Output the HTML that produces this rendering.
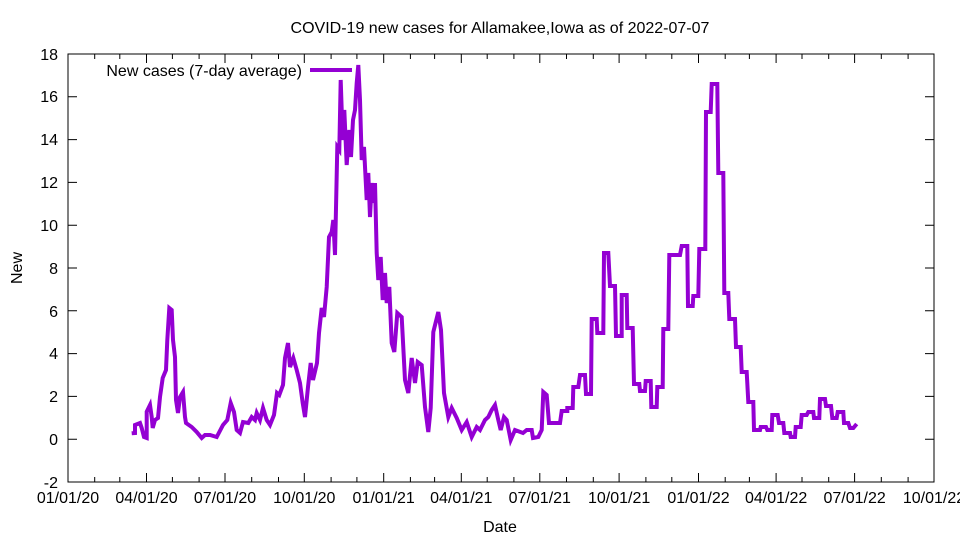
<!DOCTYPE html>
<html><head><meta charset="utf-8"><style>body{margin:0;background:#fff}svg{display:block}text{font-family:"Liberation Sans",sans-serif;font-size:16px;fill:#000}</style></head><body>
<svg width="960" height="540" viewBox="0 0 960 540">
<text x="500" y="33" text-anchor="middle">COVID-19 new cases for Allamakee,Iowa as of 2022-07-07</text>
<text x="500" y="532" text-anchor="middle">Date</text>
<text transform="translate(22,268) rotate(-90)" text-anchor="middle">New</text>
<g stroke="#000" stroke-width="1" fill="none">
<rect x="68" y="54" width="866" height="428"/>
<path d="M68,482h9M934,482h-9M68,439.2h9M934,439.2h-9M68,396.4h9M934,396.4h-9M68,353.6h9M934,353.6h-9M68,310.8h9M934,310.8h-9M68,268h9M934,268h-9M68,225.2h9M934,225.2h-9M68,182.4h9M934,182.4h-9M68,139.6h9M934,139.6h-9M68,96.8h9M934,96.8h-9"/>
<path d="M146.5,482v-9M225,482v-9M304.3,482v-9M383.7,482v-9M461.3,482v-9M539.8,482v-9M619.1,482v-9M698.5,482v-9M776.1,482v-9M854.6,482v-9M146.5,54v9M225,54v9M304.3,54v9M383.7,54v9M461.3,54v9M539.8,54v9M619.1,54v9M698.5,54v9M776.1,54v9M854.6,54v9"/>
<path d="M94.7,482v-5M119.8,482v-5M172.4,482v-5M199.1,482v-5M251.7,482v-5M278.5,482v-5M331.1,482v-5M356.9,482v-5M410.4,482v-5M434.6,482v-5M487.2,482v-5M513.9,482v-5M566.5,482v-5M593.3,482v-5M645.9,482v-5M671.8,482v-5M725.2,482v-5M749.4,482v-5M802,482v-5M828.7,482v-5M881.3,482v-5M908.1,482v-5M94.7,54v5M119.8,54v5M172.4,54v5M199.1,54v5M251.7,54v5M278.5,54v5M331.1,54v5M356.9,54v5M410.4,54v5M434.6,54v5M487.2,54v5M513.9,54v5M566.5,54v5M593.3,54v5M645.9,54v5M671.8,54v5M725.2,54v5M749.4,54v5M802,54v5M828.7,54v5M881.3,54v5M908.1,54v5"/>
</g>
<g text-anchor="end">
<text x="58" y="488">-2</text><text x="58" y="445">0</text><text x="58" y="402">2</text><text x="58" y="359">4</text><text x="58" y="317">6</text><text x="58" y="274">8</text><text x="58" y="231">10</text><text x="58" y="188">12</text><text x="58" y="145">14</text><text x="58" y="102">16</text><text x="58" y="60">18</text>
</g>
<g text-anchor="middle">
<text x="68" y="503">01/01/20</text><text x="146.5" y="503">04/01/20</text><text x="225" y="503">07/01/20</text><text x="304.3" y="503">10/01/20</text><text x="383.7" y="503">01/01/21</text><text x="461.3" y="503">04/01/21</text><text x="539.8" y="503">07/01/21</text><text x="619.1" y="503">10/01/21</text><text x="698.5" y="503">01/01/22</text><text x="776.1" y="503">04/01/22</text><text x="854.6" y="503">07/01/22</text><text x="934" y="503">10/01/22</text>
</g>
<text x="302" y="76" text-anchor="end">New cases (7-day average)</text>
<path d="M310,70H352" stroke="#9400d3" stroke-width="4"/>
<polyline fill="none" stroke="#9400d3" stroke-width="4" stroke-linejoin="miter" points="131.7,433.3 135,433 135,425 140,423 141.7,428 144,437 146.7,438 146.7,411.7 150,405 151.7,417 152.7,428 155,420 158,418 160,397 162.7,378 166,370 167.3,340 169.3,308 171.7,310 173,340 175,357 176,400 178,413 180,397 183,392 185,417 186,423 191.7,427 196.7,432 201.7,438 205,435 210,435 216.7,437 223,425 227.3,420 230.7,403 234,412 236.7,430 240,433 243,422 248.3,423 251.7,417 255,420 256.7,413 260,420 263,408 266.7,420 270,425 274,415 277,393 279.3,395 283,385 285,358 288,343 290,367 293.3,358 296.7,370 300,383 302.7,403 305,417 308,387 310.7,363 313,380 317,363 319,333 321.7,308 324,317 326.7,287 329,237 331.7,232 333.3,220 335,255 337.3,147 339.3,150 340.7,80 342.7,140 344.3,110 346.7,165 349.3,130 351,157 353,120 355,110 356.7,83 358.3,65 360,100 361.7,160 364,147 366.7,200 368.3,173 370,217 371.7,183 373.3,203 375,183 376.7,253 378.3,280 380.7,257 382.7,300 385,273 386.7,303 389.3,287 391.7,343 394.3,352 397.3,313 401.7,317 405,380 408.3,393 411.7,358 415,383 417.7,362 421.7,365 425,407 428.3,432 430.7,408 433.3,332 438.3,312 441,330 444,393 448.3,417 451.7,408 456.7,418 461.7,430 466.7,422 471.7,437 476.7,427 480,430 485,420 488.3,417 491.7,410 495,405 498.3,420 500.7,430 504,417 506.7,420 510.7,440 515,430 523,433 526.7,430 531.7,430 533,438 538.3,437 541.7,430 543.3,392 546.7,395 549,423 560,423 561.7,411 567.3,411 567.3,408 572.7,408 573.3,387 578.3,387 580,375 585,375 586,394 591,394 591.7,319 596.7,319 597.3,333 603.3,333 604,253 608.3,253 610,286 615,286 616,336 621.7,336 621.7,295 626.7,295 627.3,328 632.7,328 634,384 639.3,384 640,391 645,391 645.7,381 650.7,381 651.3,407 656.7,407 657.3,387 662.7,387 663.3,329 668.3,329 669.3,255 680,255 681.7,246 687.3,246 688,306 692.7,306 693.3,296 698.3,296 699.3,249 705.3,249 706,112 710.7,112 711.7,84 717.3,84 718.3,173 723.3,173 724.3,293 728.3,293 729.3,319 735,319 736,347 740.7,347 741.7,372 746.7,372 748.3,402 753.3,402 754,430 760,430 760.7,427 766,427 767.3,430 771.7,430 772.3,415 777.7,415 779,423 783.3,423 784.3,433 790,433 790.7,437 795,437 795.7,427 800.7,427 801.7,415 806.7,415 808.3,412 813.3,412 814,418 819.3,418 820,399 825,399 826,406 831,406 832.3,418 836.7,418 837.7,412 843.3,412 844,423 848.3,423 850,428 853.3,428 856.7,424"/>
</svg>
</body></html>
